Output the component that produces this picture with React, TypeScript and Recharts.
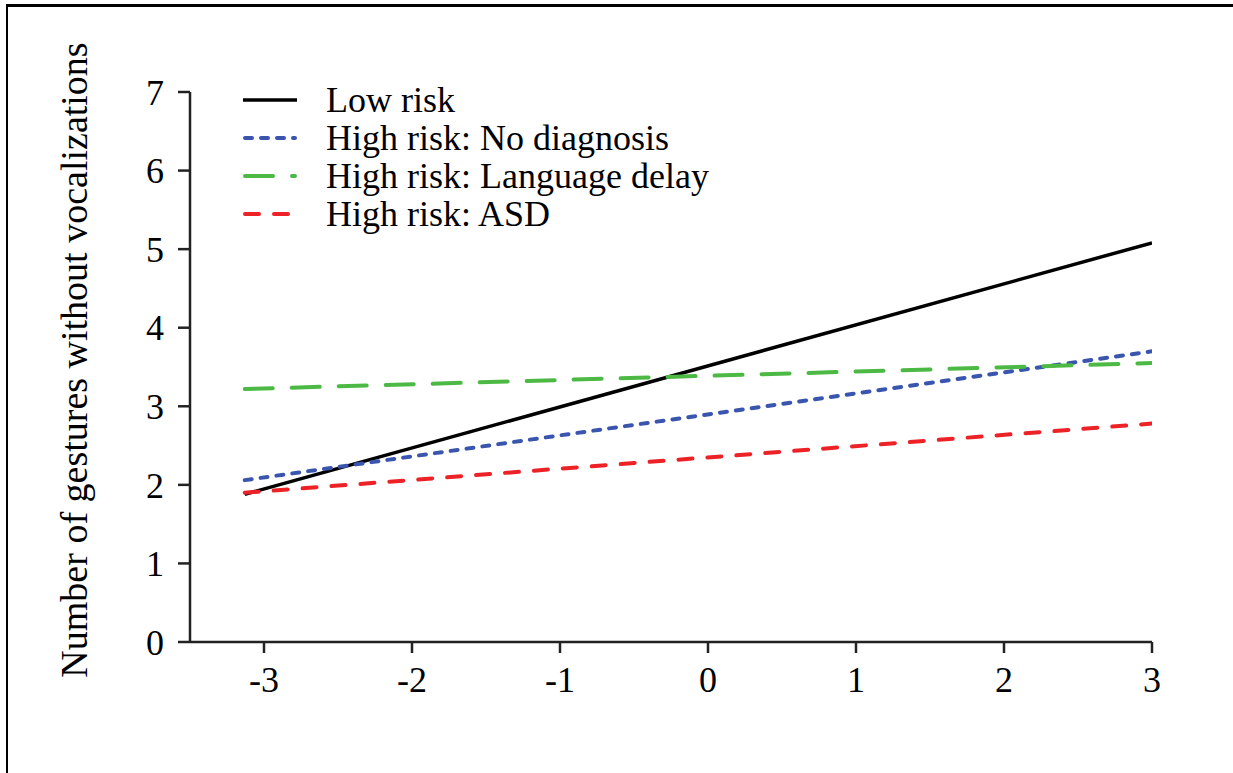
import React from "react";
import { LineChart, Line, XAxis, YAxis } from "recharts";

const xValues = [-3.13, 3];
const lowRisk = [1.88, 5.08];
const noDiagnosis = [2.06, 3.7];
const languageDelay = [3.22, 3.55];
const asd = [1.9, 2.78];

const xTicks = [-3, -2, -1, 0, 1, 2, 3];
const yTicks = [0, 1, 2, 3, 4, 5, 6, 7];

const seriesNames = [
  "Low risk",
  "High risk: No diagnosis",
  "High risk: Language delay",
  "High risk: ASD",
];

const data = xValues.map((x, i) => ({
  x,
  low: lowRisk[i],
  nodiag: noDiagnosis[i],
  lang: languageDelay[i],
  asd: asd[i],
}));

const FONT = "'Liberation Serif', 'Times New Roman', serif";

const styles = [
  { key: "low", color: "#000000", dash: undefined as string | undefined, width: 3.5, cap: "butt" },
  { key: "nodiag", color: "#3a55ad", dash: "7 9", width: 4, cap: "round" },
  { key: "lang", color: "#4cb944", dash: "28 19", width: 4, cap: "round" },
  { key: "asd", color: "#ec2227", dash: "14 15", width: 4, cap: "round" },
];

const LegendBox = () => (
  <svg
    width={520}
    height={160}
    style={{ position: "absolute", left: 230, top: 75, overflow: "visible" }}
  >
    {seriesNames.map((name, i) => {
      const y = 25 + i * 38;
      const s = styles[i];
      const pad = s.cap === "round" ? 2 : 0;
      return (
        <g key={name}>
          <line
            x1={13 + pad}
            x2={67 - pad}
            y1={y}
            y2={y}
            stroke={s.color}
            strokeWidth={s.width}
            strokeDasharray={s.dash}
            strokeLinecap={s.cap as any}
          />
          <text x={96} y={y + 12} fontFamily={FONT} fontSize={36} fill="#000">
            {name}
          </text>
        </g>
      );
    })}
  </svg>
);

const YLabel = (props: any) => {
  const vb = props.viewBox || {};
  const cx = vb.x + 87;
  const cy = vb.y + vb.height / 2 - 7;
  return (
    <text
      x={cx}
      y={cy}
      transform={`rotate(-90, ${cx}, ${cy})`}
      textAnchor="middle"
      fontFamily={FONT}
      fontSize={38}
      fill="#000"
    >
      Number of gestures without vocalizations
    </text>
  );
};

export default function App() {
  return (
    <div style={{ position: "absolute", left: 0, top: 0, width: 1233, height: 773, background: "#fff" }}>
      <div
        style={{
          position: "absolute",
          left: 6,
          top: 4,
          width: 1233,
          height: 773,
          borderTop: "3px solid #000",
          borderLeft: "2.5px solid #000",
          boxSizing: "border-box",
        }}
      />
      <LineChart
        width={1233}
        height={773}
        data={data}
        margin={{ top: 92, right: 81, bottom: 0, left: 0 }}
        style={{ position: "absolute", left: 0, top: 0 }}
      >
        <XAxis
          dataKey="x"
          type="number"
          domain={[-3.5, 3]}
          ticks={xTicks}
          height={131}
          stroke="#222"
          strokeWidth={2.5}
          tickSize={11}
          tickMargin={13}
          tick={{ fontFamily: FONT, fontSize: 36, fill: "#000" }}
          tickLine={{ stroke: "#222", strokeWidth: 2.5 }}
          allowDataOverflow
        />
        <YAxis
          type="number"
          domain={[0, 7]}
          ticks={yTicks}
          width={190}
          stroke="#222"
          strokeWidth={2.5}
          tickSize={12}
          tickMargin={14}
          tick={{ fontFamily: FONT, fontSize: 36, fill: "#000" }}
          tickLine={{ stroke: "#222", strokeWidth: 2.5 }}
          label={<YLabel />}
        />
        {styles.map((s, i) => (
          <Line
            key={s.key}
            dataKey={s.key}
            name={seriesNames[i]}
            stroke={s.color}
            strokeWidth={s.width}
            strokeDasharray={s.dash}
            strokeLinecap={s.cap as any}
            dot={false}
            activeDot={false}
            isAnimationActive={false}
          />
        ))}
      </LineChart>
      <LegendBox />
    </div>
  );
}
